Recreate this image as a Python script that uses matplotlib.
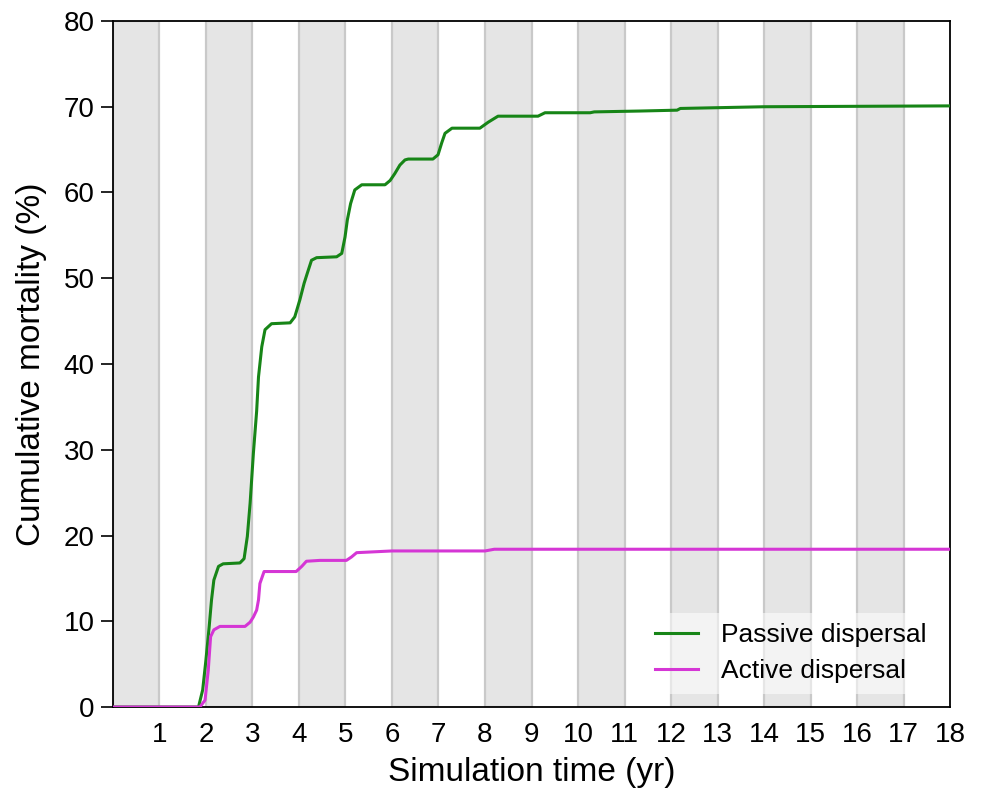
import matplotlib
matplotlib.use("Agg")
import matplotlib.pyplot as plt

plt.rcParams['font.family'] = ['Liberation Sans', 'DejaVu Sans']

# time (yr) and cumulative mortality (%)
passive_t = [0, 1.84, 1.93, 2.00, 2.07, 2.12, 2.17, 2.27, 2.37, 2.73, 2.82, 2.89, 2.95,
             3.02, 3.09, 3.13, 3.20, 3.27, 3.41, 3.81, 3.91, 4.02, 4.11, 4.18, 4.27,
             4.38, 4.81, 4.92, 4.99, 5.04, 5.11, 5.20, 5.35, 5.85, 5.96, 6.06, 6.17,
             6.28, 6.35, 6.88, 6.99, 7.07, 7.14, 7.29, 7.89, 8.07, 8.28, 9.14, 9.29,
             10.26, 10.35, 11.33, 12.13, 12.2, 14.0, 18.0]
passive_v = [0, 0, 2.0, 5.5, 9.4, 12.5, 14.8, 16.4, 16.7, 16.8, 17.3, 19.9, 23.8,
             29.6, 34.5, 38.5, 42.0, 44.0, 44.7, 44.8, 45.5, 47.5, 49.4, 50.6, 52.1,
             52.4, 52.5, 52.9, 54.8, 56.8, 58.7, 60.3, 60.9, 60.9, 61.4, 62.2, 63.2,
             63.8, 63.9, 63.9, 64.4, 65.8, 66.9, 67.5, 67.5, 68.2, 68.9, 68.9, 69.3,
             69.3, 69.4, 69.5, 69.6, 69.8, 70.0, 70.1]

active_t = [0, 1.87, 1.98, 2.05, 2.10, 2.17, 2.30, 2.84, 2.95, 3.02, 3.09, 3.13, 3.16,
            3.25, 3.94, 4.06, 4.16, 4.45, 5.02, 5.13, 5.24, 6.0, 8.0, 8.2, 18.0]
active_v = [0, 0, 0.8, 4.3, 8.2, 9.0, 9.4, 9.4, 9.9, 10.5, 11.3, 12.5, 14.4,
            15.8, 15.8, 16.4, 17.0, 17.1, 17.1, 17.5, 18.0, 18.2, 18.2, 18.4, 18.4]

x_ticks = list(range(1, 19))
y_ticks = list(range(0, 81, 10))
shaded_years = list(range(0, 17, 2))  # start of each grey band

fig = plt.figure(figsize=(9.82, 7.98), dpi=100)
ax = fig.add_axes([0.115, 0.114, 0.8525, 0.8597])

for start in shaded_years:
    ax.axvspan(start, start + 1, facecolor='#e5e5e5', edgecolor='#c9c9c9',
               linewidth=1.6, zorder=0)

ax.plot(passive_t, passive_v, color='#178517', lw=2.2, label='Passive dispersal', zorder=3)
ax.plot(active_t, active_v, color='#d536d5', lw=2.2, label='Active dispersal', zorder=3)

ax.set_xlim(0, 18)
ax.set_ylim(0, 80)
ax.set_xticks(x_ticks)
ax.set_yticks(y_ticks)
ax.tick_params(axis='x', length=0, pad=11, labelsize=20)
ax.tick_params(axis='y', length=9, width=1.2, pad=4, labelsize=20)

for sp in ax.spines.values():
    sp.set_linewidth(1.3)

ax.set_xlabel('Simulation time (yr)', fontsize=24, labelpad=6)
ax.set_ylabel('Cumulative mortality (%)', fontsize=24, labelpad=12)

leg = ax.legend(loc='lower right', fontsize=19, frameon=True, fancybox=False,
                framealpha=0.55, edgecolor='none', handlelength=1.65,
                handletextpad=0.85, labelspacing=0.45, borderaxespad=0.5)
leg.get_frame().set_facecolor('white')

fig.savefig('out.png', dpi=100)
